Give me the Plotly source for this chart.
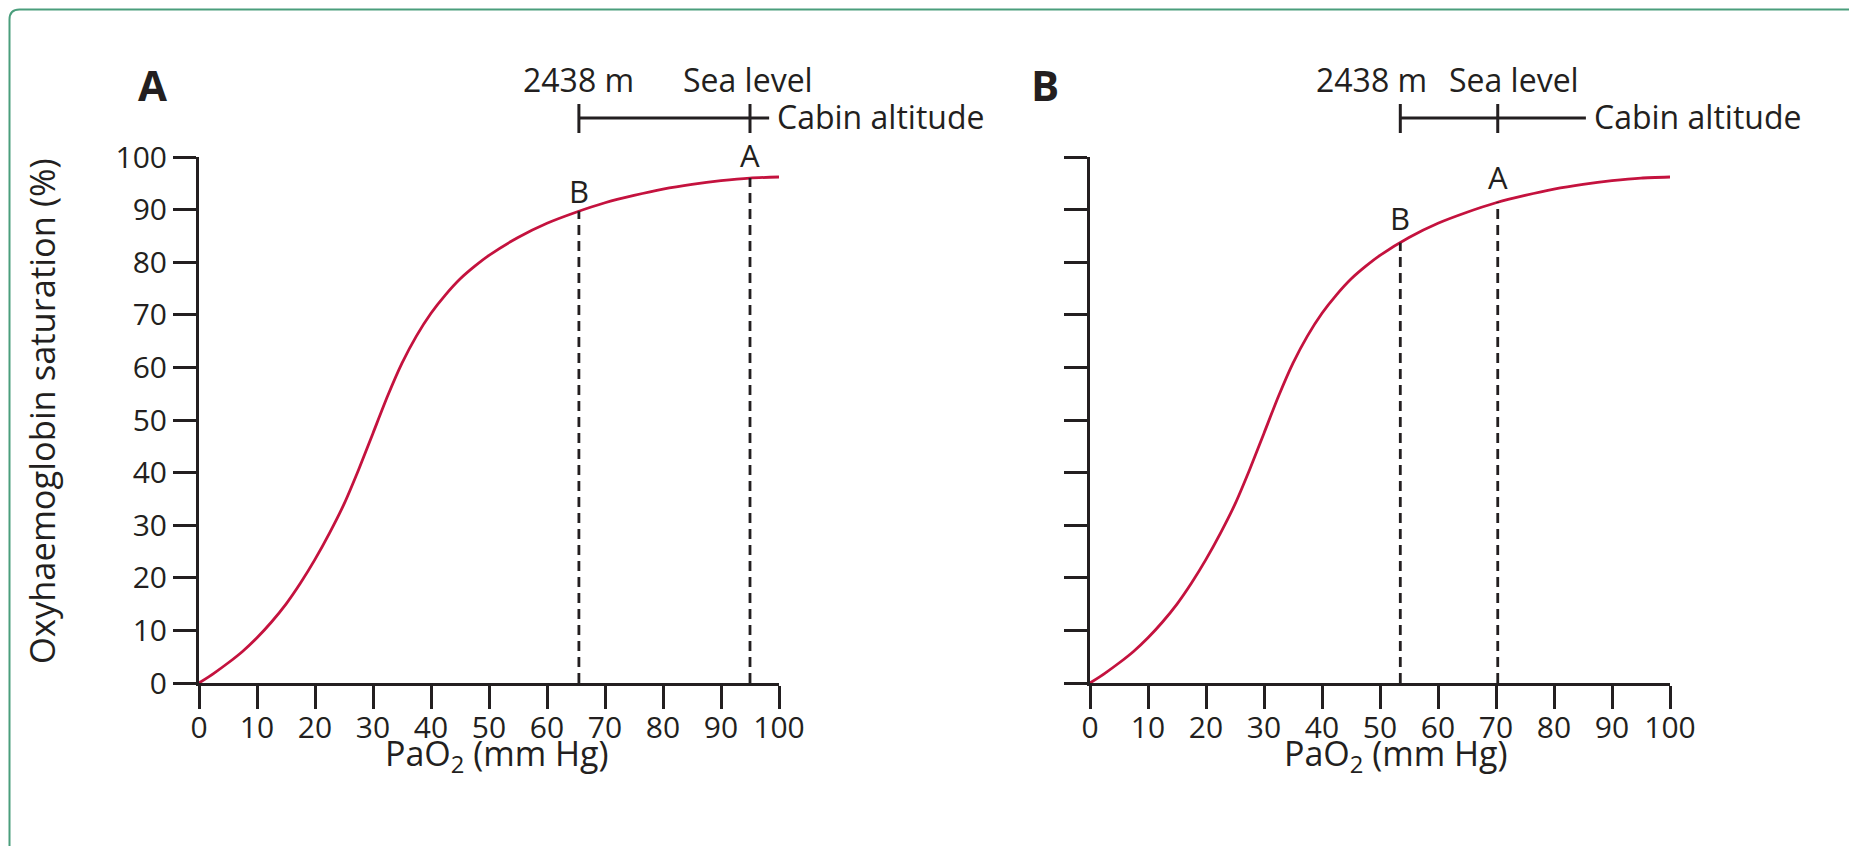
import numpy as np
import plotly.graph_objects as go

# ---------------- data ----------------
pao2 = [0, 2.5, 5, 7.5, 10, 12.5, 15, 17.5, 20, 22.5, 25, 27.5, 30, 32.5, 35,
        37.5, 40, 42.5, 45, 47.5, 50, 55, 60, 65, 70, 75, 80, 85, 90, 95, 100]
saturation = [0, 1.8, 3.8, 6.0, 8.6, 11.6, 15.0, 19.0, 23.5, 28.5, 34.0, 40.5,
              47.5, 54.5, 60.8, 66.0, 70.3, 73.8, 76.8, 79.2, 81.3, 84.7, 87.4,
              89.5, 91.3, 92.7, 93.9, 94.8, 95.5, 96.0, 96.2]

x_ticks = [0, 10, 20, 30, 40, 50, 60, 70, 80, 90, 100]
y_ticks = [0, 10, 20, 30, 40, 50, 60, 70, 80, 90, 100]

point_labels = ["A", "B"]
panel_a_points = [95.0, 65.5]      # PaO2 at sea level / 2438 m, panel A
panel_b_points = [70.3, 53.5]      # PaO2 at sea level / 2438 m, panel B
cabin_bar_end = [98.3, 85.5]       # right end of the cabin-altitude bar (PaO2 units)

altitude_labels = ["2438 m", "Sea level"]

# ---------------- styling ----------------
W, H = 1857, 846
OFF = 8                     # page body margin
FW, FH = W - OFF, H - OFF   # figure size so it fits the window exactly
INK = "#231f20"
RED = "#c4123e"
GREEN = "#4a9e7c"
FONT = "Open Sans"


def px(x):
    return (x - OFF) / FW


def py(y):
    return 1 - (y - OFF) / FH


fig = go.Figure()

panels = [("x", "y", panel_a_points), ("x2", "y2", panel_b_points)]
for xr, yr, pts in panels:
    fig.add_trace(go.Scatter(x=pao2, y=saturation, mode="lines",
                             line=dict(color=RED, width=2.8, shape="spline", smoothing=0.6),
                             xaxis=xr, yaxis=yr, showlegend=False, hoverinfo="skip"))
    for v in pts:
        top = float(np.interp(v, pao2, saturation))
        fig.add_trace(go.Scatter(x=[v, v], y=[0, top], mode="lines",
                                 line=dict(color=INK, width=2.8, dash="10px,6px"),
                                 xaxis=xr, yaxis=yr, showlegend=False, hoverinfo="skip"))

axis_common = dict(range=[0, 100], showgrid=False, zeroline=False, showline=True,
                   linecolor=INK, linewidth=3, ticks="outside", ticklen=23,
                   tickwidth=3, tickcolor=INK, automargin=False,
                   tickfont=dict(family=FONT, size=30, color=INK), fixedrange=True)
x_axis = dict(axis_common, tickvals=x_ticks, ticklabelstandoff=-7)
y_axis = dict(axis_common, tickvals=y_ticks)

fig.update_layout(
    template="none",
    width=FW, height=FH, margin=dict(l=0, r=0, t=0, b=0, pad=0, autoexpand=False),
    paper_bgcolor="white", plot_bgcolor="white",
    font=dict(family=FONT, color=INK),
    xaxis=dict(x_axis, domain=[px(199), px(779)], anchor="y"),
    yaxis=dict(y_axis, domain=[py(683), py(157)], anchor="x"),
    xaxis2=dict(x_axis, domain=[px(1090), px(1670)], anchor="y2"),
    yaxis2=dict(y_axis, domain=[py(683), py(157)], anchor="x2", showticklabels=False),
)

annotations = []
shapes = []

# point labels on curves
label_shift = [[0, -3], [2, 2]]
for (xr, yr, pts), shifts in zip(panels, label_shift):
    for lab, v, s in zip(point_labels, pts, shifts):
        top = float(np.interp(v, pao2, saturation))
        annotations.append(dict(x=v, y=top, xref=xr, yref=yr, text=lab, showarrow=False,
                                xanchor="center", yanchor="bottom", yshift=s,
                                font=dict(family=FONT, size=31, color=INK)))

# cabin altitude bars
for i, (xr, yr, pts) in enumerate(panels):
    sea, alt = pts[0], pts[1]
    shapes.append(dict(type="line", xref=xr, yref="paper", x0=alt, x1=cabin_bar_end[i],
                       y0=py(118), y1=py(118), line=dict(color=INK, width=3)))
    for v in (alt, sea):
        shapes.append(dict(type="line", xref=xr, yref="paper", x0=v, x1=v,
                           y0=py(104), y1=py(133), line=dict(color=INK, width=3)))
    annotations.append(dict(x=cabin_bar_end[i], y=py(117), xref=xr, yref="paper",
                            text="Cabin altitude", showarrow=False, xanchor="left",
                            yanchor="middle", xshift=6,
                            font=dict(family=FONT, size=32, color=INK)))
    shift_alt, shift_sea = (0, -2) if i == 0 else (-29, 16)
    annotations.append(dict(x=alt, y=py(79), xref=xr, yref="paper", text=altitude_labels[0],
                            showarrow=False, xanchor="center", yanchor="middle",
                            xshift=shift_alt, font=dict(family=FONT, size=32, color=INK)))
    annotations.append(dict(x=sea, y=py(79), xref=xr, yref="paper", text=altitude_labels[1],
                            showarrow=False, xanchor="center", yanchor="middle",
                            xshift=shift_sea, font=dict(family=FONT, size=32, color=INK)))

# panel letters
for lab, xc in (("A", 152), ("B", 1045)):
    annotations.append(dict(x=px(xc), y=py(84), xref="paper", yref="paper", text=f"<b>{lab}</b>",
                            showarrow=False, xanchor="center", yanchor="middle",
                            font=dict(family=FONT, size=42, color=INK)))

# axis titles
annotations.append(dict(x=px(41), y=py(411), xref="paper", yref="paper",
                        text="Oxyhaemoglobin saturation (%)", textangle=-90, showarrow=False,
                        xanchor="center", yanchor="middle",
                        font=dict(family=FONT, size=34.5, color=INK)))
for xc in (497, 1396):
    annotations.append(dict(x=px(xc), y=py(755), xref="paper", yref="paper",
                            text="PaO<sub>2</sub> (mm Hg)", showarrow=False,
                            xanchor="center", yanchor="middle",
                            font=dict(family=FONT, size=34, color=INK)))

# outer green frame (rounded top-left corner)
r = 10
fx, fy = 9.5, 9.5
frame_path = (f"M {px(fx)},{py(H + 10)} L {px(fx)},{py(fy + r)} "
              f"Q {px(fx)},{py(fy)} {px(fx + r)},{py(fy)} L {px(W + 10)},{py(fy)}")
shapes.append(dict(type="path", xref="paper", yref="paper", path=frame_path,
                   line=dict(color=GREEN, width=2)))

fig.update_layout(annotations=annotations, shapes=shapes)
fig.write_html("out.html")
